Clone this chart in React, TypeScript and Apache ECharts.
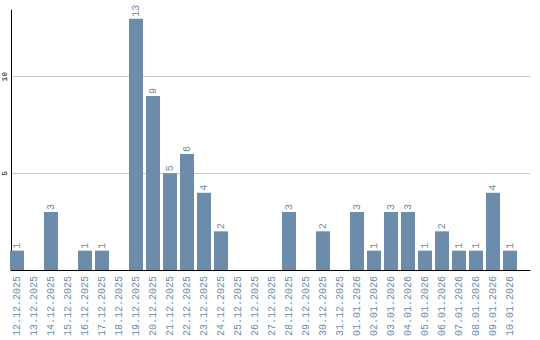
import React, { useEffect, useRef } from "react";
import * as echarts from "echarts";

const categories = [
  "12.12.2025", "13.12.2025", "14.12.2025", "15.12.2025", "16.12.2025",
  "17.12.2025", "18.12.2025", "19.12.2025", "20.12.2025", "21.12.2025",
  "22.12.2025", "23.12.2025", "24.12.2025", "25.12.2025", "26.12.2025",
  "27.12.2025", "28.12.2025", "29.12.2025", "30.12.2025", "31.12.2025",
  "01.01.2026", "02.01.2026", "03.01.2026", "04.01.2026", "05.01.2026",
  "06.01.2026", "07.01.2026", "08.01.2026", "09.01.2026", "10.01.2026",
];
const values = [1, 0, 3, 0, 1, 1, 0, 13, 9, 5, 6, 4, 2, 0, 0, 0, 3, 0, 2, 0, 3, 1, 3, 3, 1, 2, 1, 1, 4, 1];
const yMax = 13.45;
const yInterval = 5;

const BAR = "#6b8cab";
const MONO = "'Liberation Mono', 'DejaVu Sans Mono', monospace";

export default function App() {
  const ref = useRef<HTMLDivElement>(null);
  useEffect(() => {
    if (!ref.current) return;
    const chart = echarts.init(ref.current, undefined, { renderer: "svg" });
    chart.setOption({
      animation: false,
      grid: [
        { left: 8.5, top: 10, width: 510, height: 260 },
        { left: 10, top: 10, width: 520, height: 260 },
      ],
      xAxis: [
        {
          type: "category",
          gridIndex: 0,
          data: categories,
          axisLine: { show: false },
          axisTick: { show: false },
          axisLabel: {
            interval: 0,
            rotate: 90,
            margin: 6,
            color: BAR,
            fontFamily: MONO,
            fontSize: 10,
          },
        },
        {
          type: "value",
          gridIndex: 1,
          min: 0,
          max: 1,
          axisLine: { show: true, lineStyle: { color: "#000", width: 1 } },
          axisTick: { show: false },
          axisLabel: { show: false },
          splitLine: { show: false },
        },
      ],
      yAxis: [
        {
          type: "value",
          gridIndex: 0,
          min: 0,
          max: yMax,
          interval: yInterval,
          show: false,
          splitLine: { show: false },
        },
        {
          type: "value",
          gridIndex: 1,
          min: 0,
          max: yMax,
          interval: yInterval,
          axisLine: { show: true, lineStyle: { color: "#000", width: 1 } },
          axisTick: { show: false },
          axisLabel: {
            rotate: 90,
            margin: 3,
            color: "#000",
            fontFamily: MONO,
            fontSize: 8,
            showMinLabel: false,
            showMaxLabel: false,
          },
          splitLine: {
            show: true,
            showMinLine: false,
            showMaxLine: false,
            lineStyle: { color: "#c8c8c8", width: 1 },
          },
        },
      ],
      series: [
        {
          type: "bar",
          xAxisIndex: 0,
          yAxisIndex: 0,
          data: values.map((v) => (v === 0 ? null : v)),
          barWidth: 14,
          itemStyle: { color: BAR },
          label: {
            show: true,
            position: "top",
            rotate: 90,
            align: "left",
            verticalAlign: "middle",
            distance: 2,
            color: BAR,
            fontFamily: MONO,
            fontSize: 10,
          },
        },
      ],
    });
    return () => chart.dispose();
  }, []);
  return <div ref={ref} style={{ width: 540, height: 340, position: "absolute", left: 0, top: 0 }} />;
}
